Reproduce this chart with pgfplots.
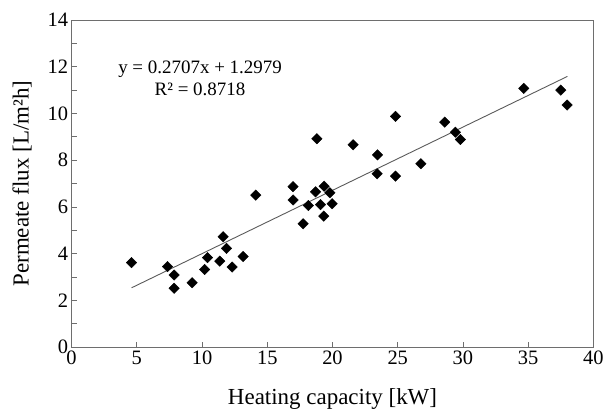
\documentclass[border=0pt]{standalone}
\usepackage{pgfplots}
\pgfplotsset{compat=1.18}
\usepackage{fontspec}
\setmainfont{Liberation Serif}
\definecolor{framegray}{RGB}{110,110,110}
\definecolor{linegray}{RGB}{90,90,90}
\begin{document}
\begin{tikzpicture}
\begin{axis}[
  scale only axis,
  width=523pt, height=328pt,
  xmin=0, xmax=40, ymin=0, ymax=14,
  xtick={0,5,...,40}, ytick={0,2,...,14},
  minor ytick={1,3,...,13},
  tick align=inside,
  xtick pos=bottom, ytick pos=left,
  axis line style={framegray, line width=0.9pt},
  tick style={framegray, line width=0.8pt},
  major tick length=5pt, minor tick length=5pt,
  tick label style={font=\fontsize{20.5}{24}\selectfont, black},
  /pgf/number format/assume math mode=true,
  xlabel={Heating capacity [kW]},
  ylabel={Permeate flux [L/m²h]},
  xlabel style={font=\fontsize{23}{27}\selectfont, at={(axis description cs:0.5,-0.158)}, anchor=center},
  ylabel style={font=\fontsize{23}{27}\selectfont, at={(axis description cs:-0.095,0.5)}, anchor=center},
  clip=false,
]
\addplot[only marks, mark=square*, mark size=3.7pt, black,
  every mark/.append style={rotate=45}] coordinates {
(4.6,3.62) (7.36,3.45) (7.86,3.09) (7.86,2.52) (9.24,2.76)
(10.2,3.33) (10.42,3.83) (11.36,3.68) (11.62,4.73) (11.88,4.23)
(12.31,3.43) (13.15,3.88) (14.12,6.51) (16.98,6.87) (16.98,6.30)
(17.75,5.28) (18.15,6.06) (18.7,6.65) (19.08,6.10) (18.8,8.92)
(19.36,6.89) (19.33,5.61) (19.8,6.61) (19.97,6.14) (21.58,8.66)
(23.45,8.23) (23.42,7.42) (24.83,9.88) (24.83,7.32) (26.77,7.85)
(28.6,9.63) (29.42,9.20) (29.8,8.89) (34.66,11.07) (37.5,11.00)
(37.98,10.36)
};
\addplot[linegray, line width=0.9pt] coordinates {(4.6,2.543) (38,11.584)};
\node[align=center, font=\fontsize{19}{22}\selectfont, inner sep=0pt] at (axis cs:9.85,11.5)
  {y = 0.2707x + 1.2979\\R² = 0.8718};
\end{axis}
\path ([xshift=-71.7pt]current axis.west) ([xshift=12pt]current axis.east)
      ([yshift=20pt]current axis.north) ([yshift=-60pt]current axis.south);
\end{tikzpicture}
\end{document}
